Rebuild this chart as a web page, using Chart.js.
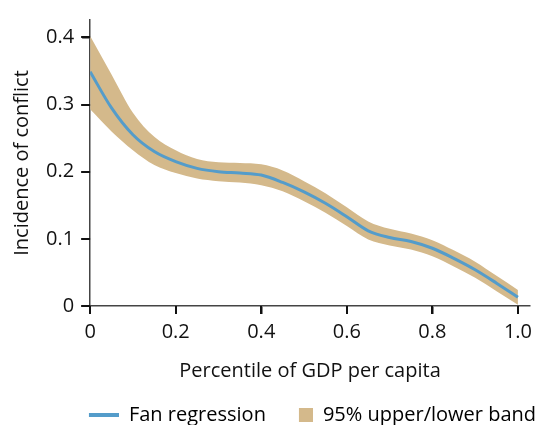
<!DOCTYPE html>
<html>
<head>
<meta charset="utf-8">
<script src="https://cdn.jsdelivr.net/npm/chart.js@4.4.0/dist/chart.umd.min.js"></script>
<style>
  html, body { margin: 0; padding: 0; background: #fff; }
  #wrap { width: 538px; height: 425px; }
</style>
</head>
<body>
<div id="wrap"><canvas id="chart" width="538" height="425"></canvas></div>
<script>
// percentiles of GDP per capita
const percentiles = [0, 0.05, 0.1, 0.15, 0.2, 0.25, 0.3, 0.35, 0.4, 0.45, 0.5, 0.55, 0.6, 0.65, 0.7, 0.75, 0.8, 0.85, 0.9, 0.95, 1.0];
// fan regression
const fanRegression = [0.349, 0.295, 0.255, 0.230, 0.215, 0.205, 0.200, 0.198, 0.195, 0.184, 0.170, 0.153, 0.133, 0.112, 0.102, 0.096, 0.086, 0.071, 0.054, 0.034, 0.013];
// 95% band
const upperBand = [0.402, 0.345, 0.288, 0.252, 0.232, 0.219, 0.214, 0.213, 0.211, 0.202, 0.186, 0.168, 0.147, 0.126, 0.115, 0.108, 0.098, 0.083, 0.066, 0.045, 0.024];
const lowerBand = [0.293, 0.260, 0.232, 0.210, 0.198, 0.190, 0.186, 0.184, 0.180, 0.171, 0.156, 0.139, 0.119, 0.099, 0.090, 0.084, 0.074, 0.059, 0.042, 0.022, 0.002];
const xTicks = [0, 0.2, 0.4, 0.6, 0.8, 1.0];
const yTicks = [0, 0.1, 0.2, 0.3, 0.4];

const lineColor = 'rgb(84, 156, 202)';
const bandColor = 'rgb(212, 185, 139)';
const axisColor = '#444';
const tickColor = '#111';
const textColor = '#111';
const fontFamily = '"Open Sans", "Noto Sans", sans-serif';
const fontSize = 20;
const tickLen = 8;

function toPoints(values) {
    return percentiles.map((p, i) => ({ x: p, y: values[i] }));
}

function keepTicks(list) {
    return function (axis) {
        axis.ticks = list.map(v => ({ value: v }));
    };
}

// legend markers: both 45px wide so the gaps come out like the original
function lineMarker() {
    const c = document.createElement('canvas');
    c.width = 45; c.height = 4;
    const g = c.getContext('2d');
    g.fillStyle = lineColor;
    g.fillRect(15, 0, 30, 4);
    return c;
}
function squareMarker() {
    const c = document.createElement('canvas');
    c.width = 45; c.height = 14;
    const g = c.getContext('2d');
    g.fillStyle = bandColor;
    g.fillRect(31, 0, 14, 14);
    return c;
}
const lineImg = lineMarker();
const squareImg = squareMarker();

// short tick marks outside the axes, and a tighter legend box
const axisTicks = {
    id: 'axisTicks',
    afterInit(chart) {
        const legend = chart.legend;
        const fit = legend.fit;
        legend.fit = function () {
            fit.call(this);
            this.height -= 10;
        };
    },
    afterDraw(chart) {
        const c = chart.ctx;
        const x = chart.scales.x;
        const y = chart.scales.y;
        c.save();
        c.strokeStyle = tickColor;
        c.lineWidth = 2;
        c.beginPath();
        x.ticks.forEach(t => {
            const px = Math.round(x.getPixelForValue(t.value));
            c.moveTo(px, x.top);
            c.lineTo(px, x.top + tickLen);
        });
        y.ticks.forEach(t => {
            const py = Math.round(y.getPixelForValue(t.value));
            c.moveTo(y.right - tickLen - 1, py);
            c.lineTo(y.right, py);
        });
        c.stroke();
        c.restore();
    }
};

const ctx = document.getElementById('chart').getContext('2d');
new Chart(ctx, {
    type: 'line',
    data: {
        datasets: [
            {
                label: 'Fan regression',
                data: toPoints(fanRegression),
                borderColor: lineColor,
                backgroundColor: lineColor,
                borderWidth: 3,
                pointRadius: 0,
                cubicInterpolationMode: 'monotone',
                fill: false,
                order: 0
            },
            {
                label: '95% upper/lower band',
                data: toPoints(upperBand),
                borderColor: bandColor,
                backgroundColor: bandColor,
                borderWidth: 0,
                pointRadius: 0,
                cubicInterpolationMode: 'monotone',
                fill: '+1',
                order: 1
            },
            {
                label: 'lower',
                data: toPoints(lowerBand),
                borderColor: bandColor,
                backgroundColor: bandColor,
                borderWidth: 0,
                pointRadius: 0,
                cubicInterpolationMode: 'monotone',
                fill: false,
                order: 2
            }
        ]
    },
    options: {
        responsive: false,
        animation: false,
        layout: { padding: { left: 9, right: 0, top: 10, bottom: 0 } },
        plugins: {
            tooltip: { enabled: false },
            legend: {
                position: 'bottom',
                align: 'end',
                labels: {
                    color: textColor,
                    font: { family: fontFamily, size: fontSize, lineHeight: 1 },
                    usePointStyle: true,
                    pointStyleWidth: 45,
                    boxHeight: 14,
                    padding: 2,
                    generateLabels: function () {
                        return [
                            { text: 'Fan regression', fillStyle: lineColor, strokeStyle: lineColor, lineWidth: 0, pointStyle: lineImg, datasetIndex: 0 },
                            { text: '95% upper/lower band', fillStyle: bandColor, strokeStyle: bandColor, lineWidth: 0, pointStyle: squareImg, datasetIndex: 1 }
                        ];
                    }
                }
            }
        },
        scales: {
            x: {
                type: 'linear',
                min: 0,
                max: 1.028,
                afterBuildTicks: keepTicks(xTicks),
                grid: { display: true, drawOnChartArea: false, drawTicks: true, tickLength: tickLen, color: tickColor, lineWidth: 1.5 },
                border: { display: true, color: axisColor, width: 1.5 },
                ticks: {
                    color: textColor,
                    font: { family: fontFamily, size: fontSize },
                    padding: 6,
                    maxRotation: 0,
                    callback: v => (v === 1 ? '1.0' : String(v))
                },
                title: {
                    display: true,
                    text: 'Percentile of GDP per capita',
                    color: textColor,
                    font: { family: fontFamily, size: fontSize },
                    padding: { top: 9, bottom: 20 }
                }
            },
            y: {
                min: 0,
                max: 0.426,
                afterBuildTicks: keepTicks(yTicks),
                grid: { display: true, drawOnChartArea: false, drawTicks: true, tickLength: tickLen, color: tickColor, lineWidth: 1.5 },
                border: { display: true, color: axisColor, width: 1.5 },
                ticks: {
                    color: textColor,
                    font: { family: fontFamily, size: fontSize },
                    padding: 8,
                    callback: v => String(v)
                },
                title: {
                    display: true,
                    text: 'Incidence of conflict',
                    color: textColor,
                    font: { family: fontFamily, size: fontSize },
                    padding: { top: 1, bottom: 4 }
                }
            }
        }
    },
    plugins: [axisTicks]
});
</script>
</body>
</html>
